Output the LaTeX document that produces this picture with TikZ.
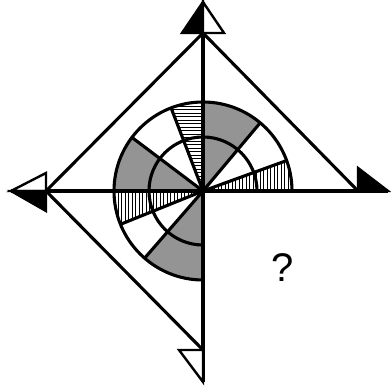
\documentclass[tikz,border=0pt]{standalone}
\usepackage{fontspec}
\setmainfont{Liberation Sans}
\usetikzlibrary{calc}

\begin{document}
\begin{tikzpicture}[x=1pt, y=1pt,
    thickline/.style={line width=3.1pt},
    head/.style={line width=2.4pt, line join=miter},
    shade/.style={fill=black!42},
    hatch/.style={line width=0.9pt}
]
\useasboundingbox (-203,-199) rectangle (188,191);

% corners of the diamond and the arrow tips
\coordinate (c) at (0,0);
\coordinate (t) at (0,158);
\coordinate (l) at (-157,0);
\coordinate (r) at (155,0);
\coordinate (b) at (0,-159);
\coordinate (ttip) at (0,189);
\coordinate (ltip) at (-192,0);
\coordinate (rtip) at (185,0);
\coordinate (btip) at (0,-191);

% gray sectors
\foreach \a/\b in {50/90, 143/180, 229/270}
    \fill[shade] (c) -- (\a:89) arc (\a:\b:89) -- cycle;

% hatched sectors
\begin{scope}
\clip (c) -- (0:89) arc (0:20:89) -- cycle;
\foreach \x in {1,4.5,...,90} \draw[hatch] (\x,0) -- (\x,40);
\end{scope}
\begin{scope}
\clip (c) -- (90:89) arc (90:111:89) -- cycle;
\foreach \y in {1,4.5,...,90} \draw[hatch] (-40,\y) -- (0,\y);
\end{scope}
\begin{scope}
\clip (c) -- (180:89) arc (180:202:89) -- cycle;
\foreach \x in {-1,-4.5,...,-90} \draw[hatch] (\x,0) -- (\x,-40);
\end{scope}

% arcs and spokes
\draw[thickline] (89,0) arc (0:270:89);
\draw[thickline] (54,0) arc (0:270:54);
\foreach \a in {20, 50, 111, 143, 202, 229}
    \draw[thickline] (c) -- (\a:89);

% cross and diamond
\draw[thickline] (ttip) -- (btip);
\draw[thickline] (ltip) -- (rtip);
\draw[thickline] (t) -- (l) -- (b);
\draw[thickline] (t) -- (r);

% arrow heads
\filldraw[head, fill=black] (ttip) -- ($(t)+(-21,0)$) -- (t) -- cycle;
\filldraw[head, fill=white] (ttip) -- ($(t)+(21,0)$) -- (t) -- cycle;
\filldraw[head, fill=white] (ltip) -- ($(l)+(0,18)$) -- (l) -- cycle;
\filldraw[head, fill=black] (ltip) -- ($(l)+(0,-20)$) -- (l) -- cycle;
\filldraw[head, fill=black] (rtip) -- ($(r)+(0,23)$) -- (r) -- cycle;
\filldraw[head, fill=white] (btip) -- ($(b)+(-24,0)$) -- (b) -- cycle;

\node[font=\fontsize{40}{40}\selectfont] (quest) at (80,-77) {?};
\end{tikzpicture}
\end{document}
